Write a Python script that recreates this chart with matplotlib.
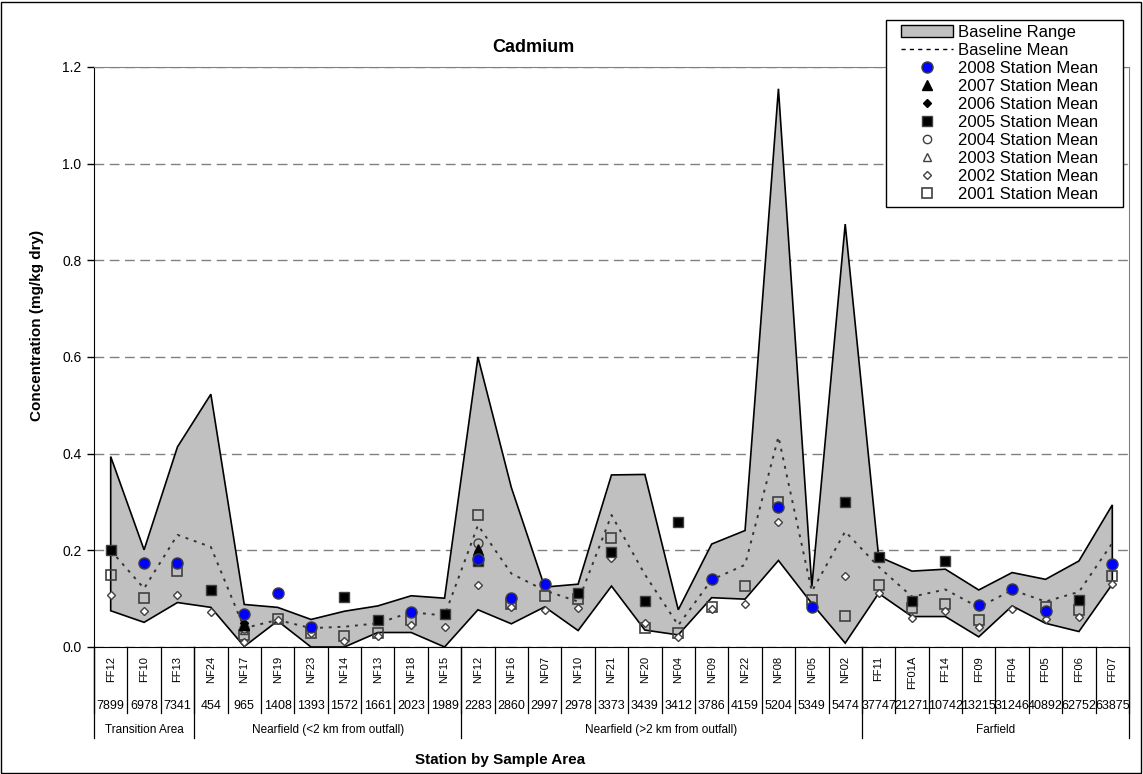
import numpy as np
import matplotlib
matplotlib.use("Agg")
import matplotlib.pyplot as plt
from matplotlib.patches import Patch, Rectangle
from matplotlib.lines import Line2D

plt.rcParams['font.family'] = ['Liberation Sans', 'DejaVu Sans']

nan = np.nan

# Stations, distance to outfall and sample areas
stations = ["FF12", "FF10", "FF13", "NF24", "NF17", "NF19", "NF23", "NF14", "NF13", "NF18", "NF15",
            "NF12", "NF16", "NF07", "NF10", "NF21", "NF20", "NF04", "NF09", "NF22", "NF08", "NF05", "NF02",
            "FF11", "FF01A", "FF14", "FF09", "FF04", "FF05", "FF06", "FF07"]
distances = ["7899", "6978", "7341", "454", "965", "1408", "1393", "1572", "1661", "2023", "1989",
             "2283", "2860", "2997", "2978", "3373", "3439", "3412", "3786", "4159", "5204", "5349", "5474",
             "37747", "21271", "10742", "13215", "31246", "40892", "62752", "63875"]
group_names = ["Transition Area", "Nearfield (<2 km from outfall)",
               "Nearfield (>2 km from outfall)", "Farfield"]
group_sizes = [3, 8, 12, 8]

# Baseline range and mean
base_upper = [0.394, 0.201, 0.414, 0.523, 0.088, 0.082, 0.057, 0.074, 0.085, 0.106, 0.101,
              0.600, 0.330, 0.124, 0.130, 0.356, 0.357, 0.077, 0.213, 0.241, 1.155, 0.125, 0.875,
              0.187, 0.157, 0.161, 0.118, 0.154, 0.140, 0.178, 0.294]
base_lower = [0.075, 0.051, 0.092, 0.082, 0.001, 0.054, 0.000, 0.000, 0.030, 0.030, 0.000,
              0.077, 0.048, 0.083, 0.034, 0.126, 0.035, 0.025, 0.102, 0.099, 0.179, 0.090, 0.008,
              0.111, 0.063, 0.063, 0.021, 0.085, 0.049, 0.032, 0.130]
base_mean = [0.200, 0.121, 0.232, 0.207, 0.039, 0.056, 0.039, 0.042, 0.049, 0.072, 0.065,
             0.252, 0.152, 0.117, 0.094, 0.273, 0.150, 0.045, 0.139, 0.170, 0.435, 0.115, 0.239,
             0.166, 0.104, 0.119, 0.082, 0.118, 0.094, 0.114, 0.215]

# Station means by year
mean_2008 = [nan, 0.173, 0.173, nan, 0.068, 0.111, 0.042, nan, nan, 0.072, nan,
             0.183, 0.101, 0.130, nan, nan, nan, nan, 0.141, nan, 0.289, 0.082, nan,
             nan, nan, nan, 0.086, 0.119, 0.075, nan, 0.172]
mean_2007 = [nan, nan, nan, nan, 0.045, nan, nan, nan, nan, nan, nan,
             0.200, nan, nan, nan, nan, nan, nan, nan, nan, nan, nan, nan,
             nan, nan, nan, nan, nan, nan, nan, nan]
mean_2006 = [nan, nan, nan, nan, 0.050, nan, nan, nan, nan, nan, nan,
             0.190, nan, nan, nan, nan, nan, nan, nan, nan, nan, nan, nan,
             nan, nan, nan, nan, nan, nan, nan, nan]
mean_2005 = [0.200, nan, nan, 0.117, nan, nan, nan, 0.103, 0.055, nan, 0.068,
             0.178, nan, nan, 0.111, 0.197, 0.096, 0.258, nan, nan, nan, nan, 0.301,
             0.187, 0.095, 0.177, nan, nan, nan, 0.097, nan]
mean_2004 = [nan, nan, nan, nan, 0.040, nan, nan, nan, nan, nan, nan,
             0.216, nan, nan, nan, nan, nan, nan, nan, nan, nan, nan, nan,
             nan, nan, nan, nan, nan, nan, nan, nan]
mean_2003 = [nan, nan, nan, nan, 0.035, nan, nan, nan, nan, nan, nan,
             0.205, nan, nan, nan, nan, nan, nan, nan, nan, nan, nan, nan,
             nan, nan, nan, nan, nan, nan, nan, nan]
mean_2002 = [0.108, 0.075, 0.108, 0.073, 0.011, 0.055, 0.030, 0.013, 0.023, 0.045, 0.041,
             0.129, 0.083, 0.077, 0.081, 0.184, 0.049, 0.020, 0.078, 0.089, 0.258, nan, 0.147,
             0.111, 0.059, 0.075, 0.042, 0.078, 0.057, 0.063, 0.130]
mean_2001 = [0.150, 0.102, 0.157, nan, 0.025, 0.057, 0.028, 0.022, 0.029, 0.056, nan,
             0.273, 0.090, 0.106, 0.099, 0.226, 0.039, 0.030, 0.083, 0.126, 0.299, 0.097, 0.064,
             0.128, 0.080, 0.089, 0.055, nan, 0.083, 0.077, 0.146]

W, H = 1143, 774
fig = plt.figure(figsize=(W / 100, H / 100), dpi=100)
ax = fig.add_axes([94 / W, 1 - 647 / H, 1035 / W, 580 / H])

x = np.arange(len(stations))

# Baseline range polygon
ax.fill(np.r_[x, x[::-1]], np.r_[base_upper, base_lower[::-1]],
        facecolor='#C0C0C0', edgecolor='black', linewidth=1.2, zorder=1)
ax.plot(x, base_mean, color='#333333', linestyle=(0, (1.5, 3)), linewidth=1.4, zorder=2)

grey = '#404040'
series = [
    (mean_2001, dict(marker='s', ms=6.5, mfc='none', mec=grey, mew=1.2)),
    (mean_2002, dict(marker='D', ms=4.3, mfc='white', mec=grey, mew=1.0)),
    (mean_2003, dict(marker='^', ms=6, mfc='none', mec=grey, mew=1.0)),
    (mean_2004, dict(marker='o', ms=6.5, mfc='none', mec=grey, mew=1.0)),
    (mean_2005, dict(marker='s', ms=6.5, mfc='black', mec=grey, mew=1.0)),
    (mean_2006, dict(marker='D', ms=4.0, mfc='black', mec='black', mew=1.0)),
    (mean_2007, dict(marker='^', ms=6.5, mfc='black', mec='black', mew=1.0)),
    (mean_2008, dict(marker='o', ms=8, mfc='#0000FF', mec=grey, mew=1.0)),
]
for vals, style in series:
    ax.plot(x, vals, linestyle='none', zorder=3, **style)

ax.set_xlim(-0.5, len(stations) - 0.5)
ax.set_ylim(0, 1.2)
ax.set_yticks(np.arange(0, 1.21, 0.2))
ax.set_yticklabels([f"{v:.1f}" for v in np.arange(0, 1.21, 0.2)])
ax.tick_params(axis='y', direction='out', length=5, width=1, labelsize=10, pad=4)
ax.set_xticks([])
ax.set_axisbelow(True)
ax.yaxis.grid(True, linestyle=(0, (7, 4)), color='#808080', linewidth=1)

for side in ['top', 'right']:
    ax.spines[side].set_color('#808080')
for side in ['left', 'bottom']:
    ax.spines[side].set_color('black')

# Category table under the axis
tr = ax.get_xaxis_transform()
row1 = -(713 - 647) / 580
row2 = -(738 - 647) / 580
for i in range(len(stations) + 1):
    ax.plot([i - 0.5, i - 0.5], [0, row1], color='black', lw=0.9, transform=tr, clip_on=False)
for i, (s, d) in enumerate(zip(stations, distances)):
    ax.text(i, -(656 - 647) / 580, s, rotation=90, ha='center', va='top', fontsize=8, transform=tr)
    ax.text(i, -(706 - 647) / 580, d, ha='center', va='center', fontsize=9, transform=tr)

start = 0
bounds = [-0.5]
for name, n in zip(group_names, group_sizes):
    ax.text(start + (n - 1) / 2, -(730 - 647) / 580, name, ha='center', va='center',
            fontsize=8.5, transform=tr)
    start += n
    bounds.append(start - 0.5)
for b in bounds:
    ax.plot([b, b], [0, row2], color='black', lw=0.9, transform=tr, clip_on=False)

fig.text(533 / W, 1 - 47 / H, "Cadmium", ha='center', va='center', fontsize=13, fontweight='bold')
fig.text(500 / W, 1 - 760 / H, "Station by Sample Area", ha='center', va='center',
         fontsize=11, fontweight='bold')
fig.text(37 / W, 1 - 325 / H, "Concentration (mg/kg dry)", ha='center', va='center',
         rotation=90, fontsize=11, fontweight='bold')

handles = [
    Patch(facecolor='#C0C0C0', edgecolor='black', linewidth=1),
    Line2D([], [], color='black', linestyle=(0, (3, 3)), linewidth=1),
    Line2D([], [], linestyle='none', marker='o', ms=8, mfc='#0000FF', mec=grey),
    Line2D([], [], linestyle='none', marker='^', ms=6.5, mfc='black', mec='black'),
    Line2D([], [], linestyle='none', marker='D', ms=4.0, mfc='black', mec='black'),
    Line2D([], [], linestyle='none', marker='s', ms=6.5, mfc='black', mec=grey),
    Line2D([], [], linestyle='none', marker='o', ms=6, mfc='none', mec=grey),
    Line2D([], [], linestyle='none', marker='^', ms=6, mfc='none', mec=grey),
    Line2D([], [], linestyle='none', marker='D', ms=4.3, mfc='white', mec=grey),
    Line2D([], [], linestyle='none', marker='s', ms=6.5, mfc='none', mec=grey, mew=1.2),
]
labels = ["Baseline Range", "Baseline Mean", "2008 Station Mean", "2007 Station Mean",
          "2006 Station Mean", "2005 Station Mean", "2004 Station Mean", "2003 Station Mean",
          "2002 Station Mean", "2001 Station Mean"]
leg = fig.legend(handles, labels, loc='upper left', bbox_to_anchor=(901 / W, 1 - 25 / H),
                 frameon=False, fontsize=12, handlelength=3.1, handletextpad=0.3,
                 labelspacing=0.18, borderpad=0, borderaxespad=0)

# Legend frame
fig.patches.append(Rectangle((886 / W, 1 - 207 / H), 237 / W, 187 / H, transform=fig.transFigure,
                             facecolor='white', edgecolor='black', linewidth=1, zorder=4))
leg.set_zorder(5)

# Outer chart border
fig.patches.append(Rectangle((1 / W, 1 / H), (W - 3) / W, (H - 3) / H, transform=fig.transFigure,
                             fill=False, edgecolor='black', linewidth=1))

fig.savefig("out.png", dpi=100)
